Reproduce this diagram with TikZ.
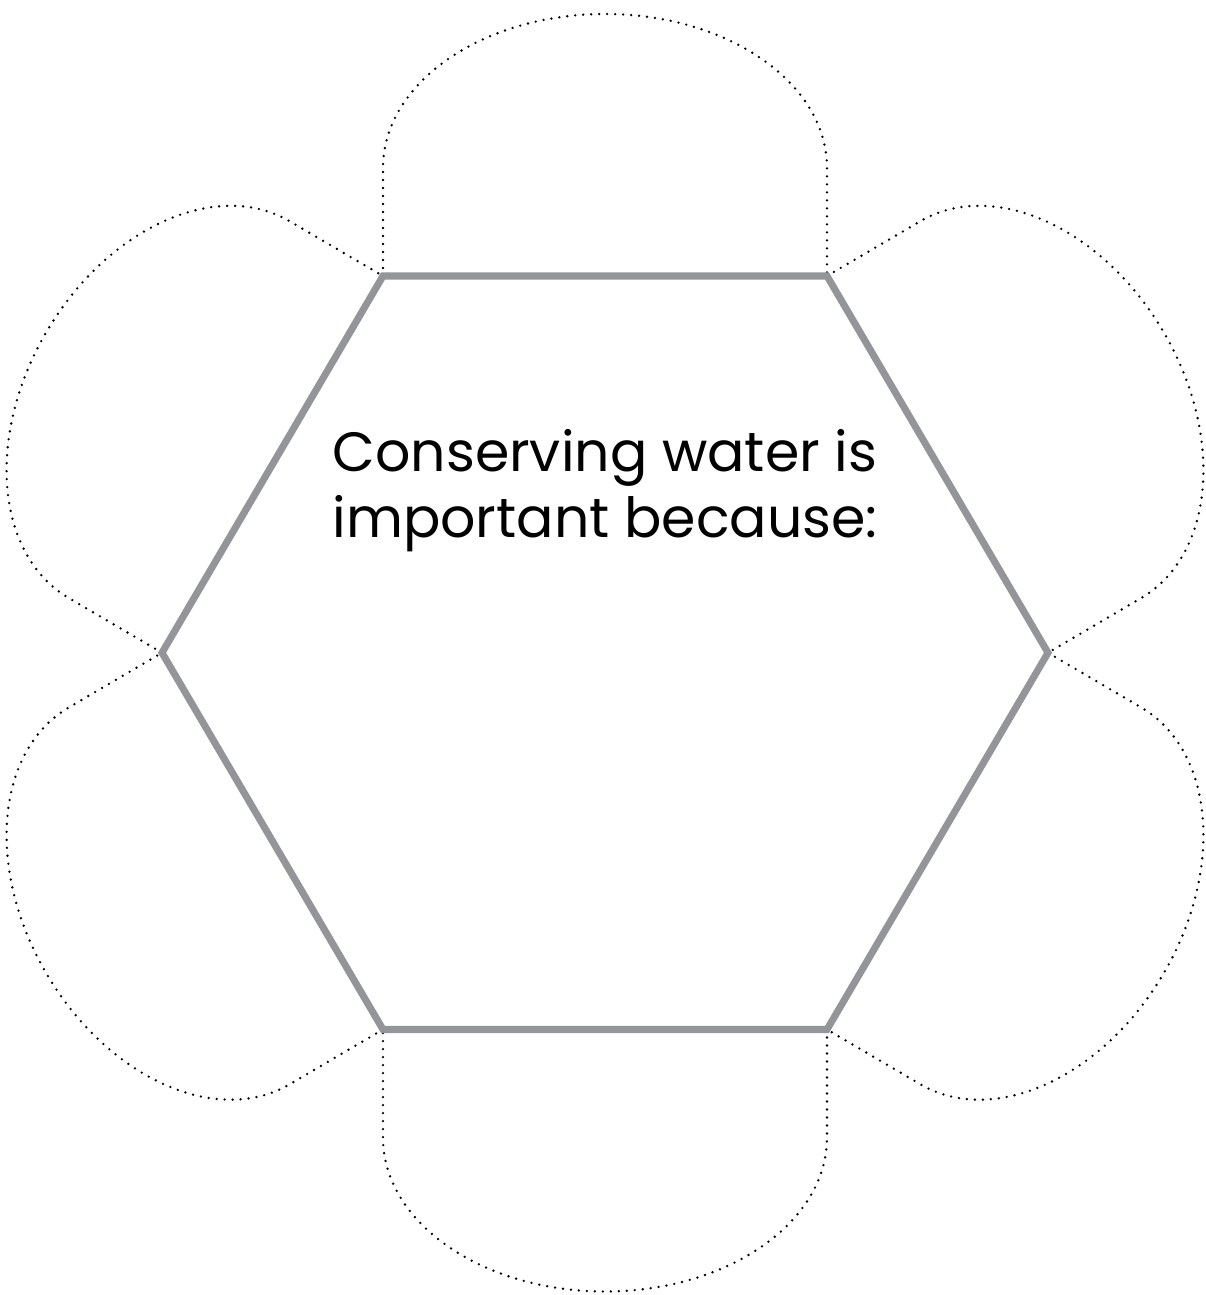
\documentclass[tikz,border=0pt]{standalone}
\usepackage{fontspec}
\setmainfont{Poppins}
\definecolor{hexgray}{RGB}{147,149,152}

\tikzset{
  hexline/.style={line width=4pt, hexgray, line join=miter},
  petalline/.style={line width=1.5pt, line cap=round, dash pattern=on 0pt off 0.16cm},
  prompttext/.style={align=center, font=\fontsize{31.5}{37.5}\selectfont}
}

\begin{document}
\begin{tikzpicture}[x=0.02cm, y=0.02cm]
    \useasboundingbox (-605,-642.25) rectangle (601,652.75);

    % Hexagone
    \coordinate (tl) at (-222, 376.75);
    \coordinate (tr) at (222, 376.75);
    \coordinate (r)  at (443, 0);
    \coordinate (br) at (222, -376.75);
    \coordinate (bl) at (-222, -376.75);
    \coordinate (l)  at (-443, 0);

    % Petales en pointilles, un par cote
    \foreach \mx/\my/\rot/\hl in {0/376.75/0/222, 332.5/188.4/-59.6/218.4,
        332.5/-188.4/-120.4/218.4, 0/-376.75/180/222,
        -332.5/-188.4/120.4/218.4, -332.5/188.4/59.6/218.4}{
      \begin{scope}[shift={(\mx,\my)}, rotate=\rot]
        \draw[petalline] (-\hl,0) -- ++(0,108)
            arc[start angle=180, end angle=0, x radius=\hl, y radius=154]
            -- ++(0,-108);
      \end{scope}
    }

    \draw[hexline] (tl) -- (tr) -- (r) -- (br) -- (bl) -- (l) -- cycle;

    \node[prompttext] (prompt) at (0, 161.75) {Conserving water is\\important because:};
\end{tikzpicture}
\end{document}
